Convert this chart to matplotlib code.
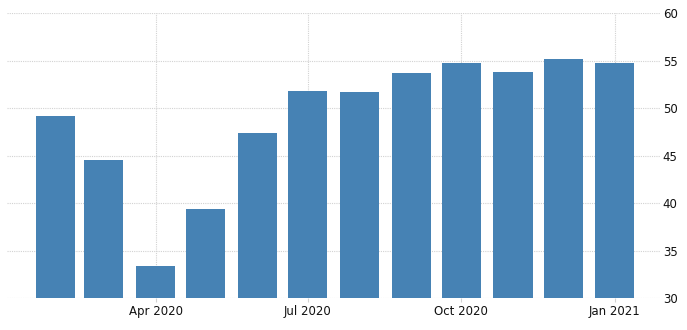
import matplotlib
matplotlib.use("Agg")
import matplotlib.pyplot as plt
import matplotlib.dates as mdates
import numpy as np
import datetime as dt

months = ["2020-02-01", "2020-03-01", "2020-04-01", "2020-05-01", "2020-06-01", "2020-07-01",
          "2020-08-01", "2020-09-01", "2020-10-01", "2020-11-01", "2020-12-01", "2021-01-01"]
values = [49.2, 44.6, 33.4, 39.4, 47.4, 51.8, 51.7, 53.7, 54.8, 53.8, 55.2, 54.8]
tick_dates = ["2020-04-01", "2020-07-01", "2020-10-01", "2021-01-01"]
tick_labels = ["Apr 2020", "Jul 2020", "Oct 2020", "Jan 2021"]
y_ticks = [30, 35, 40, 45, 50, 55, 60]

dates = [dt.datetime.strptime(d, "%Y-%m-%d") for d in months]
tdates = [dt.datetime.strptime(d, "%Y-%m-%d") for d in tick_dates]

W, H = 687, 330
fig = plt.figure(figsize=(W / 100, H / 100), dpi=100)
left, right, top, bottom = 7, 660, 13.3, 298.3
ax = fig.add_axes([left / W, 1 - bottom / H, (right - left) / W, (bottom - top) / H])

ax.bar(mdates.date2num(dates), [v - 30 for v in values], bottom=30, width=23.4,
       color="#4682b4", zorder=2, align="center")

ax.set_ylim(30, 60)
ax.set_xlim(mdates.date2num(dt.datetime(2020, 1, 3)), mdates.date2num(dt.datetime(2021, 1, 28)))
ax.set_yticks(y_ticks)
ax.set_xticks(mdates.date2num(tdates))
ax.set_xticklabels(tick_labels)

ax.yaxis.tick_right()
for s in ax.spines.values():
    s.set_visible(False)
ax.grid(True, axis="both", linestyle=(0, (1, 1)), color="#d2d2d2", linewidth=0.8, zorder=0)
ax.tick_params(axis="y", length=0, pad=2, labelsize=8.5, labelcolor="#111111")
ax.tick_params(axis="x", length=3, width=0.8, color="#d2d2d2", pad=2, labelsize=8.5,
               labelcolor="#111111")

fig.savefig("out.png", dpi=100)
